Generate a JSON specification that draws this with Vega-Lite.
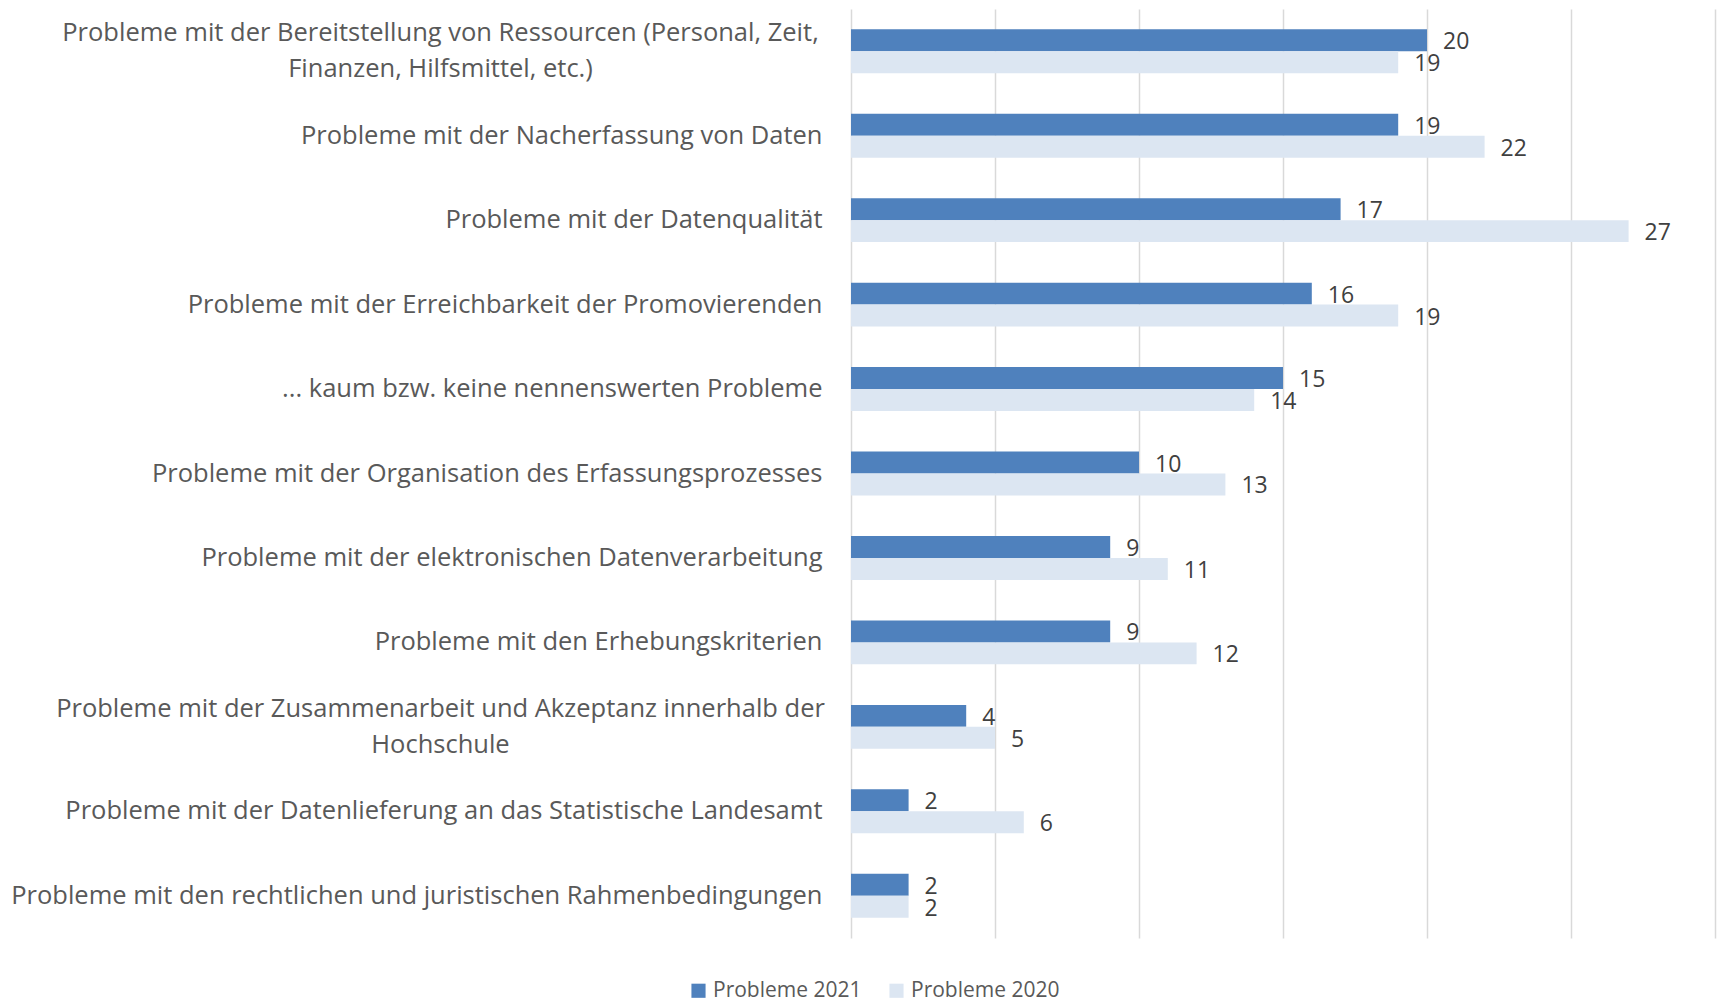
{
  "$schema": "https://vega.github.io/schema/vega-lite/v6.json",
  "width": 864,
  "height": 929,
  "autosize": {"type": "none"},
  "padding": {"left": 851, "top": 9, "right": 2, "bottom": 64},
  "background": "white",
  "config": {
    "view": {"stroke": null},
    "font": "Open Sans",
    "text": {"font": "Open Sans"}
  },
  "data": {
    "values": [
      {"kategorie": "Probleme mit der Bereitstellung von Ressourcen (Personal, Zeit,|Finanzen, Hilfsmittel, etc.)", "serie": "Probleme 2021", "wert": 20},
      {"kategorie": "Probleme mit der Bereitstellung von Ressourcen (Personal, Zeit,|Finanzen, Hilfsmittel, etc.)", "serie": "Probleme 2020", "wert": 19},
      {"kategorie": "Probleme mit der Nacherfassung von Daten", "serie": "Probleme 2021", "wert": 19},
      {"kategorie": "Probleme mit der Nacherfassung von Daten", "serie": "Probleme 2020", "wert": 22},
      {"kategorie": "Probleme mit der Datenqualität", "serie": "Probleme 2021", "wert": 17},
      {"kategorie": "Probleme mit der Datenqualität", "serie": "Probleme 2020", "wert": 27},
      {"kategorie": "Probleme mit der Erreichbarkeit der Promovierenden", "serie": "Probleme 2021", "wert": 16},
      {"kategorie": "Probleme mit der Erreichbarkeit der Promovierenden", "serie": "Probleme 2020", "wert": 19},
      {"kategorie": "... kaum bzw. keine nennenswerten Probleme", "serie": "Probleme 2021", "wert": 15},
      {"kategorie": "... kaum bzw. keine nennenswerten Probleme", "serie": "Probleme 2020", "wert": 14},
      {"kategorie": "Probleme mit der Organisation des Erfassungsprozesses", "serie": "Probleme 2021", "wert": 10},
      {"kategorie": "Probleme mit der Organisation des Erfassungsprozesses", "serie": "Probleme 2020", "wert": 13},
      {"kategorie": "Probleme mit der elektronischen Datenverarbeitung", "serie": "Probleme 2021", "wert": 9},
      {"kategorie": "Probleme mit der elektronischen Datenverarbeitung", "serie": "Probleme 2020", "wert": 11},
      {"kategorie": "Probleme mit den Erhebungskriterien", "serie": "Probleme 2021", "wert": 9},
      {"kategorie": "Probleme mit den Erhebungskriterien", "serie": "Probleme 2020", "wert": 12},
      {"kategorie": "Probleme mit der Zusammenarbeit und Akzeptanz innerhalb der|Hochschule", "serie": "Probleme 2021", "wert": 4},
      {"kategorie": "Probleme mit der Zusammenarbeit und Akzeptanz innerhalb der|Hochschule", "serie": "Probleme 2020", "wert": 5},
      {"kategorie": "Probleme mit der Datenlieferung an das Statistische Landesamt", "serie": "Probleme 2021", "wert": 2},
      {"kategorie": "Probleme mit der Datenlieferung an das Statistische Landesamt", "serie": "Probleme 2020", "wert": 6},
      {"kategorie": "Probleme mit den rechtlichen und juristischen Rahmenbedingungen", "serie": "Probleme 2021", "wert": 2},
      {"kategorie": "Probleme mit den rechtlichen und juristischen Rahmenbedingungen", "serie": "Probleme 2020", "wert": 2}
    ]
  },
  "encoding": {
    "y": {
      "field": "kategorie",
      "type": "nominal",
      "sort": null,
      "scale": {"paddingInner": 0.48, "paddingOuter": 0.24},
      "axis": {
        "title": null,
        "domain": false,
        "ticks": false,
        "labelExpr": "split(datum.label, '|')",
        "labelFont": "Open Sans",
        "labelFontSize": 25.5,
        "labelColor": "#595959",
        "labelLimit": 900,
        "labelLineHeight": 36,
        "labelBaseline": "middle",
        "labelAlign": {"condition": {"test": "indexof(datum.value, '|') >= 0", "value": "center"}, "value": "right"},
        "labelPadding": {"condition": {"test": "indexof(datum.value, '|') >= 0", "value": 411}, "value": 29},
        "labelOffset": {"condition": {"test": "indexof(datum.value, '|') >= 0", "value": -18}, "value": 0}
      }
    },
    "yOffset": {"field": "serie", "type": "nominal", "sort": ["Probleme 2021", "Probleme 2020"]},
    "x": {
      "field": "wert",
      "type": "quantitative",
      "scale": {"domain": [0, 30], "nice": false},
      "axis": {
        "title": null,
        "values": [0, 5, 10, 15, 20, 25, 30],
        "labels": false,
        "ticks": false,
        "domain": false,
        "grid": true,
        "gridColor": "#d9d9d9",
        "gridWidth": 1.5
      }
    }
  },
  "layer": [
    {
      "mark": {"type": "bar"},
      "encoding": {
        "color": {
          "field": "serie",
          "type": "nominal",
          "scale": {"domain": ["Probleme 2021", "Probleme 2020"], "range": ["#4F81BD", "#DCE6F2"]},
          "legend": {
            "title": null,
            "orient": "none",
            "direction": "horizontal",
            "legendX": -163,
            "legendY": 971,
            "symbolType": "square",
            "symbolSize": 200,
            "symbolStrokeWidth": 0,
            "labelFont": "Open Sans",
            "labelFontSize": 21,
            "labelColor": "#595959",
            "columnPadding": 24,
            "labelOffset": 4
          }
        }
      }
    },
    {
      "mark": {"type": "text", "align": "left", "baseline": "middle", "dx": 16, "dy": 2, "fontSize": 23, "color": "#404040", "font": "Open Sans"},
      "encoding": {
        "text": {"field": "wert", "type": "quantitative"}
      }
    }
  ]
}
